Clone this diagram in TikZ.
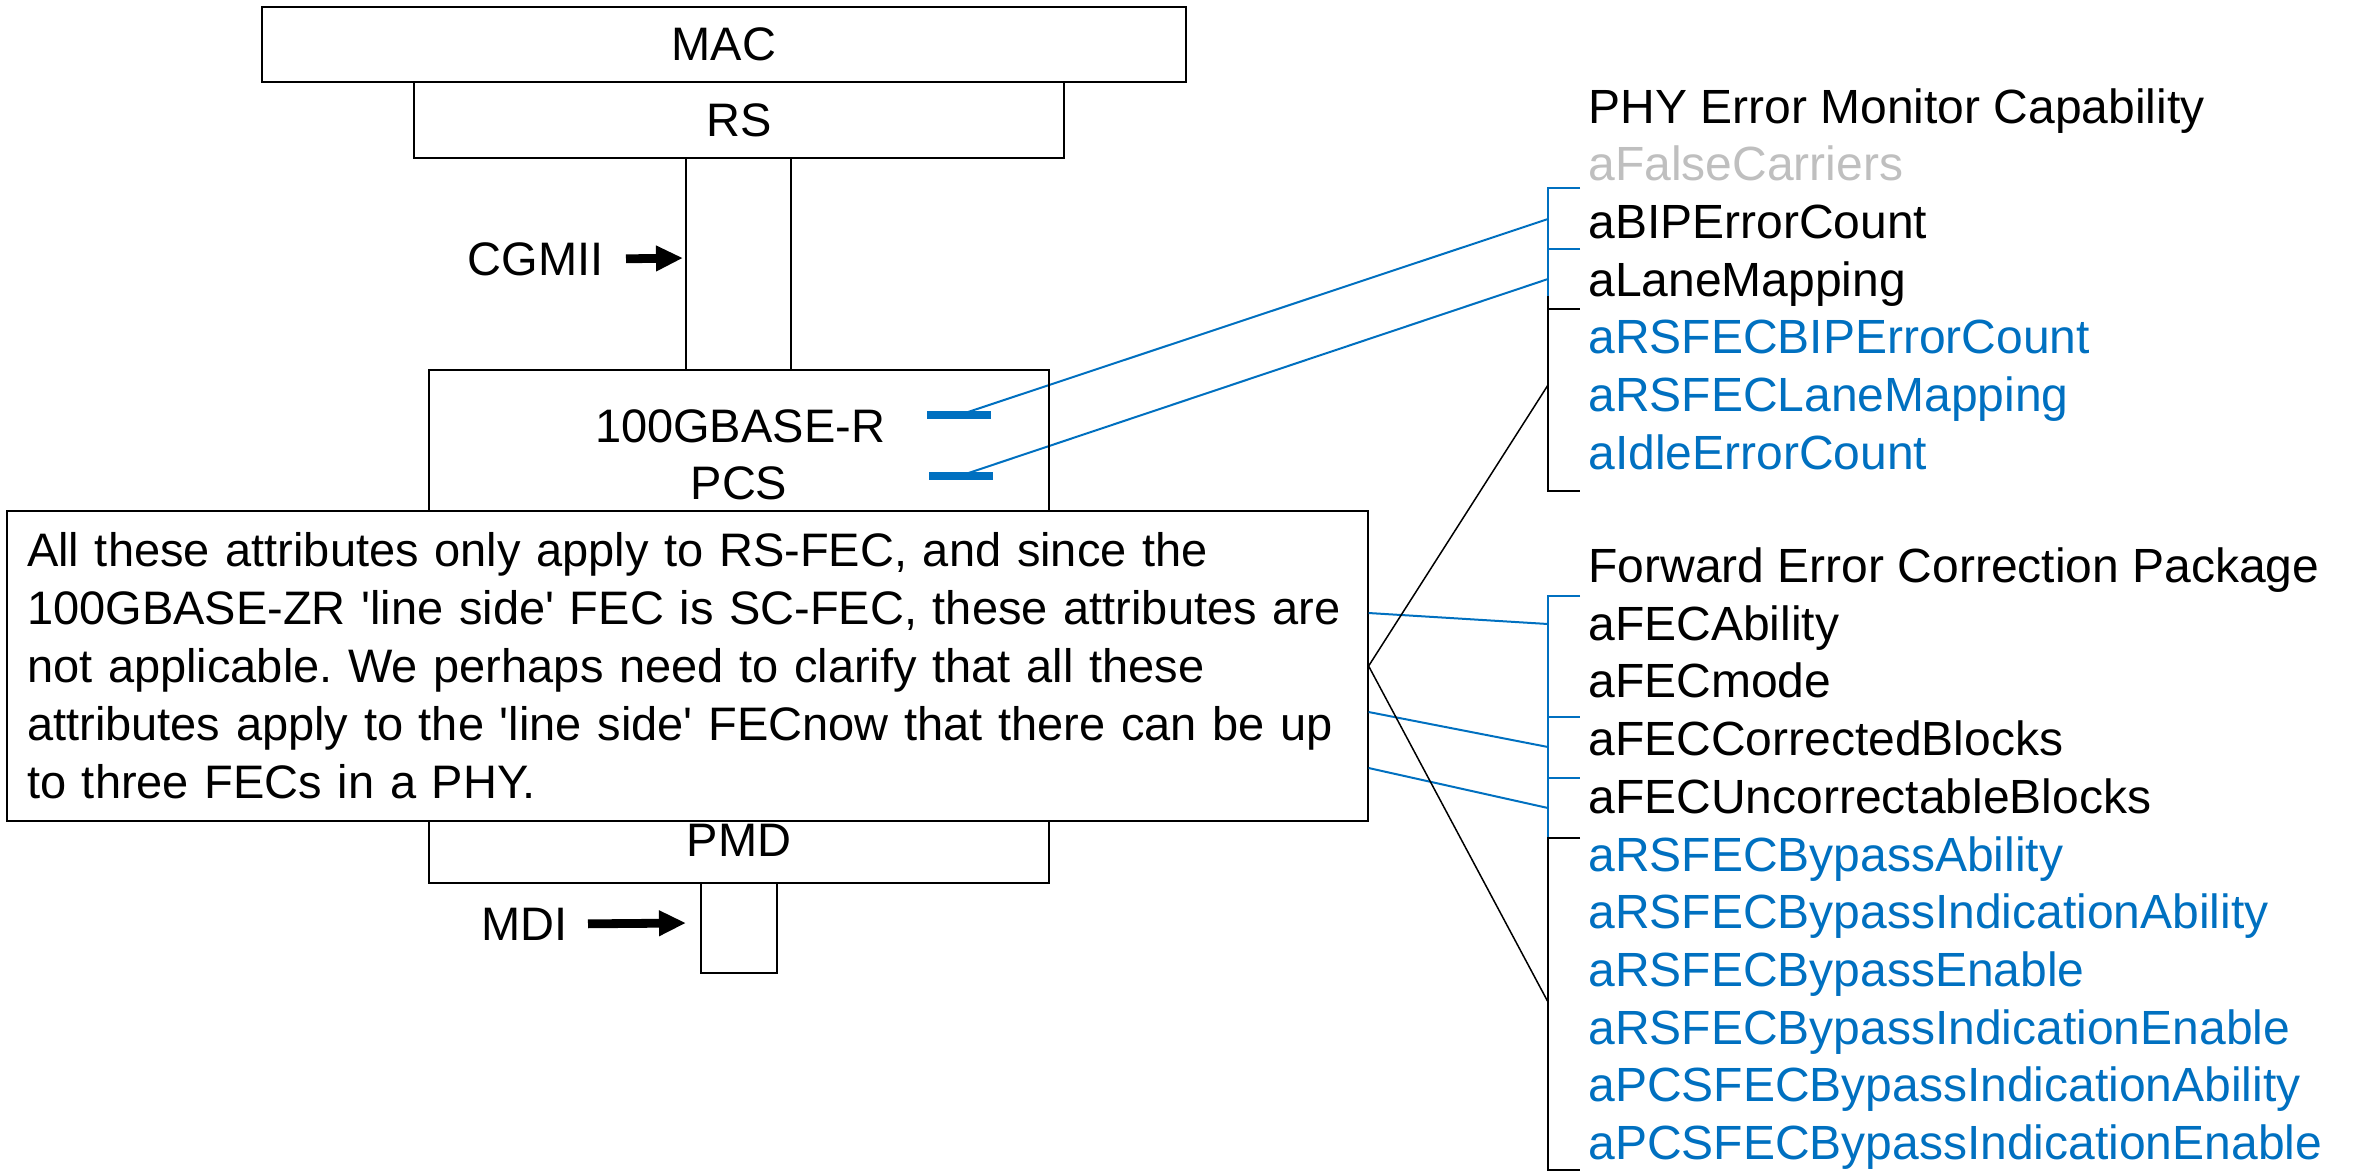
\documentclass[tikz,border=0pt]{standalone}
\usepackage{fontspec}
\setmainfont{Liberation Sans}
\usetikzlibrary{arrows.meta,backgrounds}
\definecolor{attrblue}{HTML}{0070C0}
\definecolor{fadedgray}{HTML}{BFBFBF}
\frenchspacing

\begin{document}
\begin{tikzpicture}[x=0.5pt,y=-0.5pt,
  every node/.style={font=\fontsize{23.5}{29}\selectfont, inner sep=0pt},
  block/.style={draw, line width=1pt, fill=white},
  wire/.style={line width=0.75pt},
  pointer/.style={line width=4.4pt, -{Triangle[length=13.5pt,width=12pt]}},
  bar/.style={fill=attrblue, minimum width=32pt, minimum height=4pt},
  bluelink/.style={draw=attrblue, line width=1pt},
  blacklink/.style={draw=black, line width=0.75pt},
  bluebracket/.style={draw=attrblue, line width=1pt},
  blackbracket/.style={draw=black, line width=1pt},
  attr/.style={anchor=base west, font=\fontsize{24}{29}\selectfont},
  newattr/.style={attr, text=attrblue},
]
\useasboundingbox (0,0) rectangle (2356,1175);

% ---- sublayer stack ----
\node[block, minimum width=462pt, minimum height=37.5pt] (mac) at (724,44.5) {MAC};
\node[block, minimum width=325pt, minimum height=38pt] (rs) at (739,120) {RS};
\node[draw, line width=1pt, minimum width=310pt, minimum height=256.5pt] (phy) at (739,626.5) {};
\node[draw, line width=1pt, minimum width=38pt, minimum height=45pt] (mdibox) at (739,928) {};

% CGMII: two conductors between RS and PCS
\coordinate (wireleft) at (686,0);
\coordinate (wireright) at (791,0);
\draw[wire] (rs.south -| wireleft) -- (phy.north -| wireleft);
\draw[wire] (rs.south -| wireright) -- (phy.north -| wireright);

\node[anchor=base] (pcsname) at (740,442) {100GBASE-R};
\node[anchor=base] (pcsname2) at (739,499) {PCS};
\node[anchor=base] (pmdname) at (739,856) {PMD};

% interface pointers
\node[anchor=base east] (cgmii) at (604,275) {CGMII};
\coordinate (cgmiitip) at (683,258);
\draw[pointer] ([xshift=11pt]cgmii.east) -- (cgmiitip);

\node[anchor=base east] (mdi) at (568,940) {MDI};
\coordinate (mditip) at (686,923);
\draw[pointer] ([xshift=10pt]mdi.east) -- (mditip);

% PCS attribute markers
\node[bar] (bar1) at (959,415) {};
\node[bar] (bar2) at (961,475.5) {};

% ---- PHY Error Monitor Capability ----
\node[attr] (phyhead) at (1588,123) {PHY Error Monitor Capability};
\node[attr, text=fadedgray] (falsecar) at (1588,180.6) {aFalseCarriers};
\node[attr] (bipcount) at (1588,238.3) {aBIPErrorCount};
\node[attr] (lanemap) at (1588,296) {aLaneMapping};
\node[newattr] (rsbip) at (1588,353.6) {aRSFECBIPErrorCount};
\node[newattr] (rslane) at (1588,411.3) {aRSFECLaneMapping};
\node[newattr] (idleerr) at (1588,469) {aIdleErrorCount};

% ---- Forward Error Correction Package ----
\node[attr] (fechead) at (1588,582.5) {Forward Error Correction Package};
\node[attr] (fecab) at (1588,640.2) {aFECAbility};
\node[attr] (fecmode) at (1588,697.9) {aFECmode};
\node[attr] (feccorr) at (1588,755.6) {aFECCorrectedBlocks};
\node[attr] (fecunc) at (1588,813.3) {aFECUncorrectableBlocks};
\node[newattr] (byab) at (1588,871) {aRSFECBypassAbility};
\node[newattr] (byindab) at (1588,928.7) {aRSFECBypassIndicationAbility};
\node[newattr] (byen) at (1588,986.4) {aRSFECBypassEnable};
\node[newattr] (byinden) at (1588,1044.1) {aRSFECBypassIndicationEnable};
\node[newattr] (pcsbyindab) at (1588,1101.8) {aPCSFECBypassIndicationAbility};
\node[newattr] (pcsbyinden) at (1588,1159.5) {aPCSFECBypassIndicationEnable};

% ---- brackets ----
\draw[bluebracket] (1580,188) -| (1548,249) -- (1580,249);
\draw[bluebracket] (1580,249) -| (1548,309);
\draw[blackbracket] (1548,296) |- (1580,491);
\draw[blackbracket] (1548,309) -- (1580,309);

\draw[bluebracket] (1580,596) -| (1548,838);
\draw[bluebracket] (1548,717) -- (1580,717);
\draw[bluebracket] (1548,778) -- (1580,778);
\draw[blackbracket] (1580,838) -| (1548,1170) -- (1580,1170);

\coordinate (bipend) at (1548,219);
\coordinate (laneend) at (1548,279);
\coordinate (rsfecend) at (1548,385);
\coordinate (fecabend) at (1548,624);
\coordinate (feccorrend) at (1548,747);
\coordinate (fecuncend) at (1548,808);
\coordinate (bypassend) at (1548,1002);

\begin{scope}[on background layer]
\draw[bluelink] (bar1.center) -- (bipend);
\draw[bluelink] (bar2.center) -- (laneend);
\end{scope}

% ---- comment box ----
\node[block, anchor=north west, minimum width=680.5pt, minimum height=155pt,
      text width=660pt, inner xsep=10.2pt, align=left] (note) at (5.6,510)
 {All these attributes only apply to RS-FEC, and since the\\
  100GBASE-ZR \textquotesingle line side\textquotesingle\ FEC is SC-FEC, these attributes are\\
  not applicable. We perhaps need to clarify that all these\\
  attributes apply to the \textquotesingle line side\textquotesingle\ FECnow that there can be up\\
  to three FECs in a PHY.};

\draw[bluelink] ([yshift=26.5pt]note.east) -- (fecabend);
\draw[bluelink] ([yshift=-23pt]note.east) -- (feccorrend);
\draw[bluelink] ([yshift=-51pt]note.east) -- (fecuncend);
\draw[blacklink] (note.east) -- (rsfecend);
\draw[blacklink] (note.east) -- (bypassend);
\end{tikzpicture}
\end{document}
